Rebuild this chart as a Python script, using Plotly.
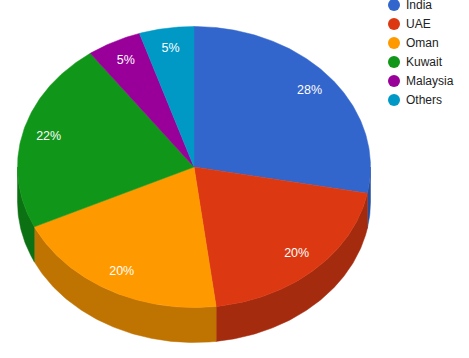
import math
import plotly.graph_objects as go

categories = ["India", "UAE", "Oman", "Kuwait", "Malaysia", "Others"]
shares = [28, 20, 20, 22, 5, 5]
top_colors = ["#3366cc", "#dc3912", "#ff9900", "#109618", "#990099", "#0099c6"]
side_colors = ["#264d99", "#a52b0e", "#bf7300", "#0c7112", "#730073", "#007395"]

CX, CY, RX, RY, DEPTH = 194, 167, 176.5, 140.5, 35
LABEL_F = 0.85


def pt(a, dy=0, f=1.0):
    return CX + RX * f * math.sin(a), CY - RY * f * math.cos(a) + dy


def arc(a0, a1, dy=0):
    n = max(2, int(abs(a1 - a0) * 80))
    return [pt(a0 + (a1 - a0) * i / n, dy) for i in range(n + 1)]


fig = go.Figure()
total = sum(shares)
angles = [0]
for s in shares:
    angles.append(angles[-1] + s / total * 2 * math.pi)

# side walls (front half only)
for i in range(len(shares)):
    a0 = max(angles[i], math.pi / 2)
    a1 = min(angles[i + 1], 3 * math.pi / 2)
    if a1 <= a0:
        continue
    poly = arc(a0, a1) + arc(a1, a0, DEPTH)
    fig.add_trace(go.Scatter(
        x=[p[0] for p in poly] + [poly[0][0]], y=[p[1] for p in poly] + [poly[0][1]],
        mode="lines", fill="toself", fillcolor=side_colors[i],
        line=dict(width=0.5, color=side_colors[i]), hoverinfo="skip", showlegend=False))

# top face
for i in range(len(shares)):
    poly = [(CX, CY)] + arc(angles[i], angles[i + 1]) + [(CX, CY)]
    fig.add_trace(go.Scatter(
        x=[p[0] for p in poly], y=[p[1] for p in poly],
        mode="lines", fill="toself", fillcolor=top_colors[i],
        line=dict(width=0.5, color=top_colors[i]), name=categories[i],
        hoverinfo="name", showlegend=False))

# percentage labels
lab = [pt((angles[i] + angles[i + 1]) / 2, f=LABEL_F) for i in range(len(shares))]
fig.add_trace(go.Scatter(
    x=[p[0] for p in lab], y=[p[1] for p in lab], mode="text",
    text=[f"{round(s / total * 100)}%" for s in shares],
    textposition="middle center",
    textfont=dict(family="Liberation Sans", size=12.5, color="white"),
    hoverinfo="skip", showlegend=False))

# legend
LEG_X, LEG_Y0, LEG_STEP = 394, 5, 19
leg_y = [LEG_Y0 + LEG_STEP * i for i in range(len(categories))]
fig.add_trace(go.Scatter(
    x=[LEG_X] * len(categories), y=leg_y, mode="markers",
    marker=dict(size=12, color=top_colors),
    hoverinfo="skip", showlegend=False, cliponaxis=False))
fig.add_trace(go.Scatter(
    x=[LEG_X + 12] * len(categories), y=[v + 1 for v in leg_y], mode="text", text=categories,
    textposition="middle right",
    textfont=dict(family="Liberation Sans", size=12, color="#222222"),
    hoverinfo="skip", showlegend=False, cliponaxis=False))

fig.update_layout(
    width=469, height=358, margin=dict(l=0, r=0, t=0, b=0),
    paper_bgcolor="white", plot_bgcolor="white", showlegend=False,
    xaxis=dict(range=[0, 469], visible=False, fixedrange=True),
    yaxis=dict(range=[358, 0], visible=False, fixedrange=True),
)
fig.write_html("out.html", config={"displayModeBar": False},
               post_script="document.body.style.margin='0';")
